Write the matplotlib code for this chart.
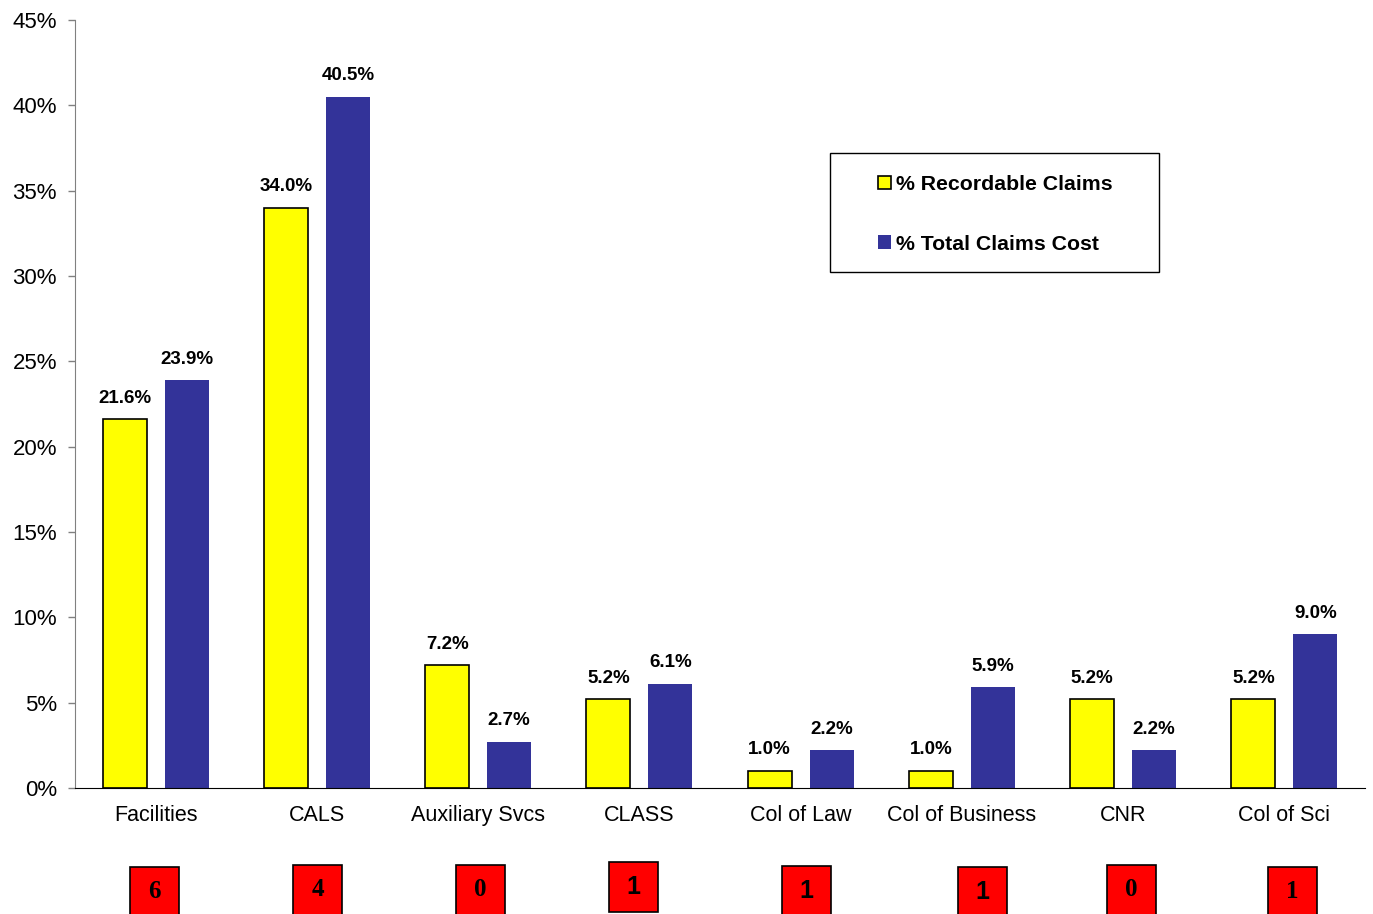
import matplotlib.pyplot as plt
import matplotlib.transforms as mtransforms
from matplotlib.patches import Rectangle
import numpy as np

plt.rcParams['font.family'] = ['Liberation Sans', 'DejaVu Sans']

# data
units = ['Facilities', 'CALS', 'Auxiliary Svcs', 'CLASS', 'Col of Law',
         'Col of Business', 'CNR', 'Col of Sci']
recordable = [21.6, 34.0, 7.2, 5.2, 1.0, 1.0, 5.2, 5.2]
total_cost = [23.9, 40.5, 2.7, 6.1, 2.2, 5.9, 2.2, 9.0]
box_counts = ['6', '4', '0', '1', '1', '1', '0', '1']
box_serif = [True, True, True, False, False, False, True, True]
box_shift = [-0.01, 0.004, 0.015, -0.037, 0.037, 0.125, 0.052, 0.05]
box_top = [867, 865, 865, 862, 866, 867, 865, 867]   # pixel rows from top

yellow = '#FFFF00'
blue = '#333399'

fig = plt.figure(figsize=(13.73, 9.14), dpi=100)
ax = fig.add_axes([75/1373, 1 - 788/914, 1290/1373, 768/914])

x = np.arange(len(units))
w = 0.273
off = 0.192

b1 = ax.bar(x - off, recordable, w, color=yellow, edgecolor='black', linewidth=1.2,
            label='% Recordable Claims')
b2 = ax.bar(x + off, total_cost, w, color=blue, edgecolor='none',
            label='% Total Claims Cost')

for bars, vals in ((b1, recordable), (b2, total_cost)):
    for p, v in zip(bars, vals):
        ax.annotate('%.1f%%' % v, (p.get_x() + p.get_width() / 2, p.get_height()),
                    xytext=(0, 9), textcoords='offset points',
                    ha='center', va='bottom', fontsize=13.5, fontweight='bold')

ax.set_xlim(-0.5, len(units) - 0.5)
ax.set_ylim(0, 45)
ax.set_yticks(range(0, 46, 5))
ax.set_yticklabels(['%d%%' % t for t in range(0, 46, 5)], fontsize=16)
ax.set_xticks(x)
ax.set_xticklabels(units, fontsize=15.5)
ax.tick_params(axis='x', length=0, pad=12.5)
ax.tick_params(axis='y', direction='out', length=5, width=1, color='#808080', pad=8)

for s in ['top', 'right']:
    ax.spines[s].set_visible(False)
ax.spines['left'].set_color('#808080')
ax.spines['bottom'].set_color('black')

# legend frame drawn separately so its size matches the original box
ax.add_patch(Rectangle((0.585, 0.672), 0.255, 0.155, transform=ax.transAxes,
                       facecolor='white', edgecolor='black', linewidth=1.0, zorder=4))
leg = ax.legend(loc='upper left', bbox_to_anchor=(0.6225, 0.798),
                prop={'weight': 'bold', 'size': 15.3}, frameon=False,
                handlelength=0.6, handleheight=0.6, handletextpad=0.25,
                labelspacing=1.9, borderpad=0, borderaxespad=0)
leg.set_zorder(5)

# red count boxes under each category
trans = mtransforms.blended_transform_factory(ax.transData, fig.transFigure)
bw = 0.304
for i, c in enumerate(box_counts):
    cx = x[i] + box_shift[i]
    top = 1 - box_top[i] / 914
    h = 50 / 914
    ax.add_patch(Rectangle((cx - bw / 2, top - h), bw, h, transform=trans,
                           facecolor='#FF0000', edgecolor='black', linewidth=1.2,
                           clip_on=False))
    fam = ['Liberation Serif', 'DejaVu Serif'] if box_serif[i] else ['Liberation Sans', 'DejaVu Sans']
    ax.text(cx, top - 25 / 914, c, transform=trans, ha='center', va='center',
            fontsize=18, fontweight='bold', family=fam)

fig.savefig('out.png', dpi=100)
